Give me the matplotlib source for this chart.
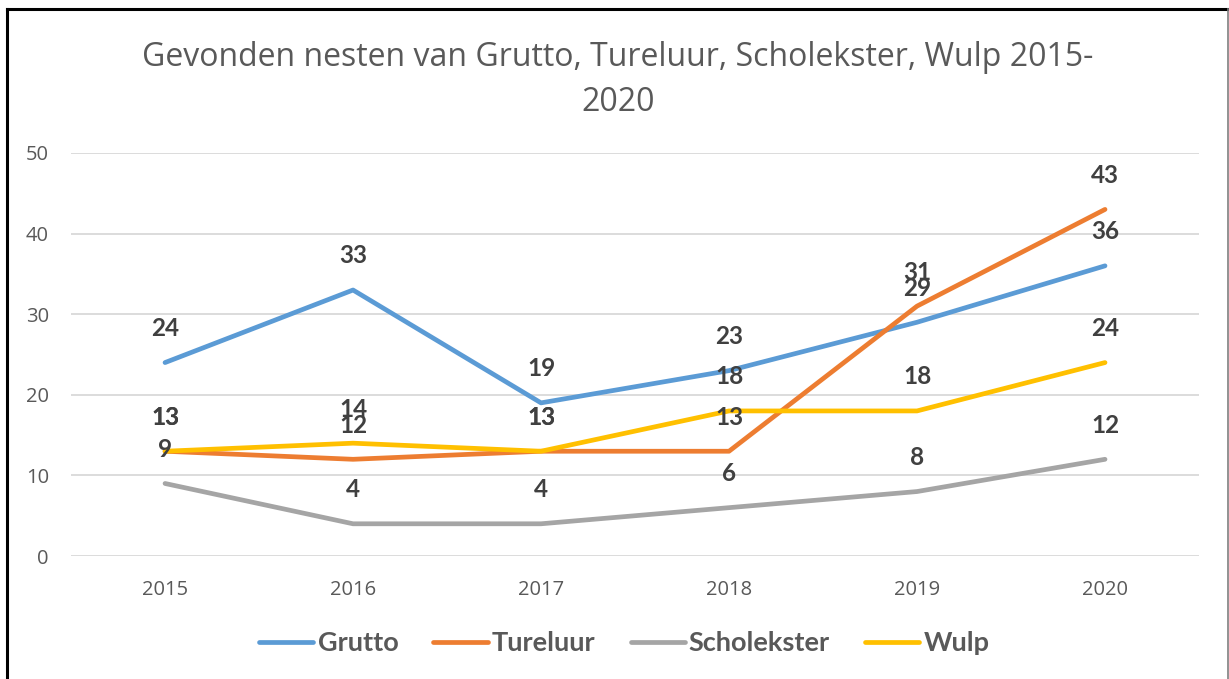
import matplotlib.pyplot as plt
from matplotlib.lines import Line2D

years = ['2015', '2016', '2017', '2018', '2019', '2020']
grutto = [24, 33, 19, 23, 29, 36]
tureluur = [13, 12, 13, 13, 31, 43]
scholekster = [9, 4, 4, 6, 8, 12]
wulp = [13, 14, 13, 18, 18, 24]

series_names = ['Grutto', 'Tureluur', 'Scholekster', 'Wulp']
series_values = [grutto, tureluur, scholekster, wulp]
colors = ['#5B9BD5', '#ED7D31', '#A5A5A5', '#FFC000']

fig = plt.figure(figsize=(12.29, 6.79), dpi=100)
ax = fig.add_axes([0.0578, 0.1811, 0.9178, 0.5936])

x = list(range(len(years)))
for name, vals, c in zip(series_names, series_values, colors):
    ax.plot(x, vals, color=c, lw=3.4, label=name, solid_capstyle='round', solid_joinstyle='round')

for vals in series_values:
    for xi, v in zip(x, vals):
        ax.annotate(str(v), (xi, v), xytext=(0, 24.5), textcoords='offset points',
                    ha='center', va='center', fontsize=17.5, fontweight='bold',
                    color='#404040', family='Lato', zorder=5)

ax.set_xlim(-0.5, len(years) - 0.5)
ax.set_ylim(0, 50)
ax.set_yticks(range(0, 51, 10))
ax.set_xticks(x)
ax.set_xticklabels(years)
ax.tick_params(axis='both', length=0, labelsize=14.5, labelcolor='#595959')
ax.tick_params(axis='x', pad=17)
ax.tick_params(axis='y', pad=16)
for lab in ax.get_xticklabels() + ax.get_yticklabels():
    lab.set_family('Open Sans')
ax.grid(axis='y', color='#D9D9D9', lw=1.3)
ax.set_axisbelow(True)
for s in ax.spines.values():
    s.set_visible(False)

fig.text(0.503, 1 - 80 / 679, 'Gevonden nesten van Grutto, Tureluur, Scholekster, Wulp 2015-\n2020',
         ha='center', va='center', fontsize=23, color='#595959', family='Open Sans',
         linespacing=1.5)

leg = fig.legend(loc='center', bbox_to_anchor=(0.508, 1 - 643 / 679), ncol=4, frameon=False,
                 handlelength=2.0, columnspacing=1.3, handletextpad=0.15,
                 prop={'family': 'Lato', 'weight': 'bold', 'size': 19.5})
for t in leg.get_texts():
    t.set_color('#595959')

# frame round the picture: black top and left, grey right
fig.add_artist(Line2D([7 / 1229, 7 / 1229], [0, 1 - 9 / 679], transform=fig.transFigure,
                      color='black', lw=2.2))
fig.add_artist(Line2D([7 / 1229, 1228 / 1229], [1 - 9 / 679, 1 - 9 / 679], transform=fig.transFigure,
                      color='black', lw=2.2))
fig.add_artist(Line2D([1227.5 / 1229, 1227.5 / 1229], [0, 1 - 9 / 679], transform=fig.transFigure,
                      color='#7F7F7F', lw=1.2))

fig.savefig('out.png', dpi=100)
